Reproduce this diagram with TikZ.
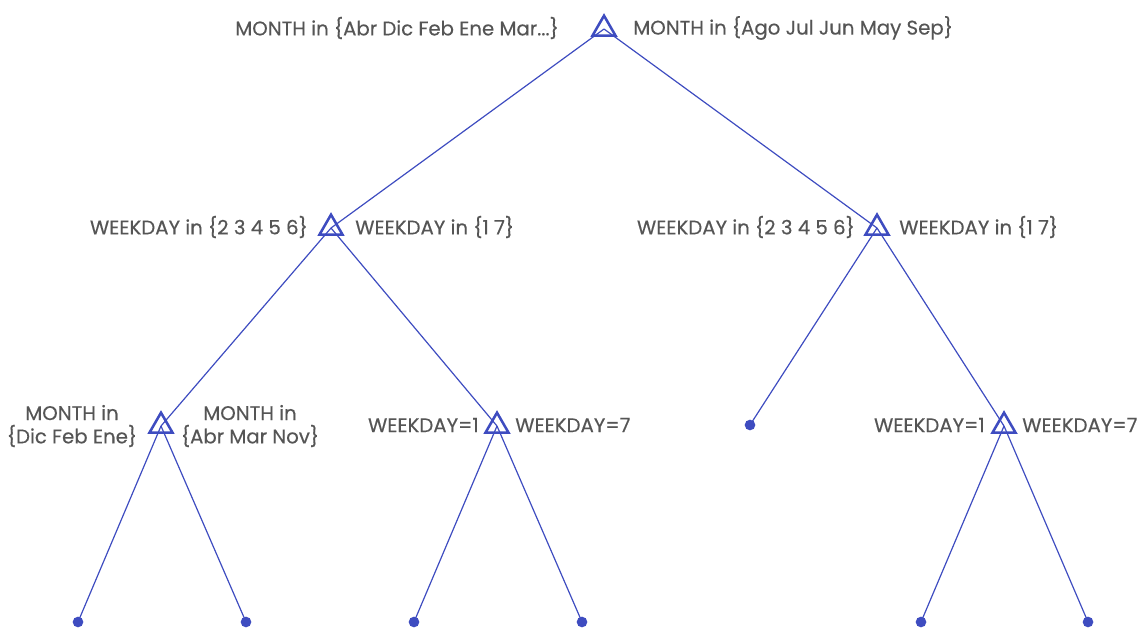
\documentclass[tikz,border=0pt]{standalone}
\usepackage{fontspec}
\setmainfont{Poppins}[FakeBold=0.4]
\usetikzlibrary{shapes.geometric}
\definecolor{treeblue}{RGB}{62,76,192}
\definecolor{labgray}{RGB}{85,85,85}
\begin{document}
\begin{tikzpicture}[x=0.75pt,y=-0.75pt,
        split/.style={regular polygon,regular polygon sides=3,draw=treeblue,line width=1.9pt,inner sep=0pt,minimum size=20pt},
        leaf/.style={circle,fill=treeblue,inner sep=0pt,minimum size=8pt},
        lab/.style={text=labgray,font=\fontsize{14.8}{17.5}\selectfont,inner sep=0pt,align=center},
        branch/.style={draw=treeblue,line width=0.9pt}]
    \useasboundingbox (0,0) rectangle (1144,628);
    % splits and leaves
    \node[split] (root) at (604,29) {};
    \node[split] (a) at (331,228) {};
    \node[split] (b) at (877,228) {};
    \node[split] (aa) at (161,426) {};
    \node[split] (ab) at (497,426) {};
    \node[leaf] (ba) at (750,425) {};
    \node[split] (bb) at (1004,426) {};
    \node[leaf] (aaa) at (78,622) {};
    \node[leaf] (aab) at (246,622) {};
    \node[leaf] (aba) at (414,622) {};
    \node[leaf] (abb) at (582,622) {};
    \node[leaf] (bba) at (921,622) {};
    \node[leaf] (bbb) at (1088,622) {};
    % branches
    \draw[branch] (root.center)--(a.center);
    \draw[branch] (root.center)--(b.center);
    \draw[branch] (a.center)--(aa.center);
    \draw[branch] (a.center)--(ab.center);
    \draw[branch] (b.center)--(ba.center);
    \draw[branch] (b.center)--(bb.center);
    \draw[branch] (aa.center)--(aaa.center);
    \draw[branch] (aa.center)--(aab.center);
    \draw[branch] (ab.center)--(aba.center);
    \draw[branch] (ab.center)--(abb.center);
    \draw[branch] (bb.center)--(bba.center);
    \draw[branch] (bb.center)--(bbb.center);
    % split labels
    \node[lab,anchor=east] (rootL) at (559,28) {MONTH in \{Abr Dic Feb Ene Mar...\}};
    \node[lab,anchor=west] (rootR) at (633,28) {MONTH in \{Ago Jul Jun May Sep\}};
    \node[lab,anchor=east] (aL) at (308,227) {WEEKDAY in \{2 3 4 5 6\}};
    \node[lab,anchor=west] (aR) at (355,227) {WEEKDAY in \{1 7\}};
    \node[lab,anchor=east] (bL) at (855,227) {WEEKDAY in \{2 3 4 5 6\}};
    \node[lab,anchor=west] (bR) at (899,227) {WEEKDAY in \{1 7\}};
    \node[lab] (aaL) at (72,426) {MONTH in\\\{Dic Feb Ene\}};
    \node[lab] (aaR) at (250,426) {MONTH in\\\{Abr Mar Nov\}};
    \node[lab,anchor=east] (abL) at (479,425) {WEEKDAY=1};
    \node[lab,anchor=west] (abR) at (515,425) {WEEKDAY=7};
    \node[lab,anchor=east] (bbL) at (985,425) {WEEKDAY=1};
    \node[lab,anchor=west] (bbR) at (1022,425) {WEEKDAY=7};
\end{tikzpicture}
\end{document}
